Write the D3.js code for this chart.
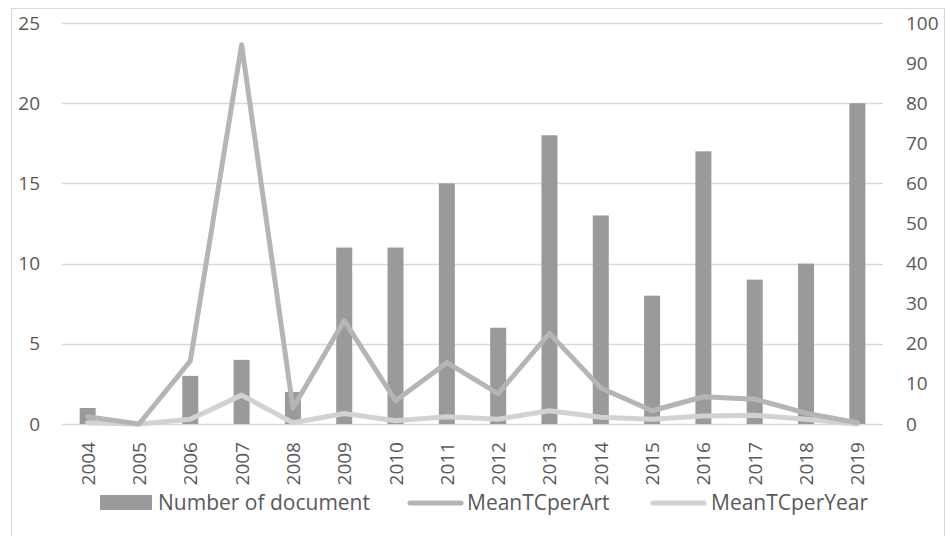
<!DOCTYPE html>
<html>
<head>
<meta charset="utf-8">
<script src="https://cdn.jsdelivr.net/npm/d3@7"></script>
<style>
  html, body { margin: 0; padding: 0; background: #fff; }
  svg { display: block; font-family: "Open Sans", "Noto Sans", sans-serif; }
</style>
</head>
<body>
<svg id="chart" width="946" height="536"></svg>
<script>
// Publication years
const years = ["2004","2005","2006","2007","2008","2009","2010","2011","2012","2013","2014","2015","2016","2017","2018","2019"];
// Number of documents per year (left axis)
const docCounts = [1, 0, 3, 4, 2, 11, 11, 15, 6, 18, 13, 8, 17, 9, 10, 20];
// Mean total citations per article (right axis)
const meanTCperArt = [1.8, 0, 15.7, 94.6, 4, 25.8, 5.8, 15.3, 7.6, 22.6, 9, 3.3, 6.8, 6.2, 2.7, 0.3];
// Mean total citations per year (right axis)
const meanTCperYear = [0.3, 0, 1.2, 7.2, 0.3, 2.6, 0.8, 1.8, 1.2, 3.3, 1.7, 1.2, 2.0, 2.2, 1.2, 0];
// Axis ticks
const leftTicks = [0, 5, 10, 15, 20, 25];
const rightTicks = [0, 10, 20, 30, 40, 50, 60, 70, 80, 90, 100];
// Legend entries
const legendLabels = ["Number of document", "MeanTCperArt", "MeanTCperYear"];

const svg = d3.select("#chart");
const plot = { left: 62, right: 883, top: 23, bottom: 424 };

const colors = { bar: "#9a9a9a", art: "#b5b5b5", year: "#d2d2d2", grid: "#d9d9d9", text: "#595959" };

// Chart frame
svg.append("rect")
  .attr("x", 11.5).attr("y", 8.5)
  .attr("width", 933).attr("height", 540)
  .attr("fill", "#fff").attr("stroke", colors.grid).attr("stroke-width", 1);

const x = d3.scaleBand().domain(years).range([plot.left, plot.right]).paddingInner(0).paddingOuter(0);
const yL = d3.scaleLinear().domain([0, 25]).range([plot.bottom, plot.top]);
const yR = d3.scaleLinear().domain([0, 100]).range([plot.bottom, plot.top]);

// Horizontal gridlines at the left-axis ticks
svg.append("g").selectAll("line").data(leftTicks).join("line")
  .attr("x1", plot.left).attr("x2", plot.right)
  .attr("y1", d => Math.round(yL(d)) + 0.5).attr("y2", d => Math.round(yL(d)) + 0.5)
  .attr("stroke", colors.grid).attr("stroke-width", 1.3);

// Left axis labels
const axL = d3.axisLeft(yL).tickValues(leftTicks).tickSize(0).tickPadding(0);
const gL = svg.append("g").attr("transform", `translate(40,0)`).call(axL);
gL.select(".domain").remove();
gL.selectAll("text").attr("fill", colors.text).attr("font-size", 19).attr("font-family", "Open Sans");

// Right axis labels
const axR = d3.axisRight(yR).tickValues(rightTicks).tickSize(0).tickPadding(0);
const gR = svg.append("g").attr("transform", `translate(906,0)`).call(axR);
gR.select(".domain").remove();
gR.selectAll("text").attr("fill", colors.text).attr("font-size", 19).attr("font-family", "Open Sans");

// Bars: number of documents
const barW = 16;
svg.append("g").selectAll("rect").data(docCounts).join("rect")
  .attr("x", (d, i) => x(years[i]) + x.bandwidth() / 2 - barW / 2)
  .attr("width", barW)
  .attr("y", d => yL(d))
  .attr("height", d => yL(0) - yL(d))
  .attr("fill", colors.bar);

// Lines on the secondary axis
const line = d3.line()
  .x((d, i) => x(years[i]) + x.bandwidth() / 2)
  .y(d => yR(d));

svg.append("path").datum(meanTCperYear)
  .attr("d", line).attr("fill", "none")
  .attr("stroke", colors.year).attr("stroke-width", 5)
  .attr("stroke-linejoin", "round").attr("stroke-linecap", "round");

svg.append("path").datum(meanTCperArt)
  .attr("d", line).attr("fill", "none")
  .attr("stroke", colors.art).attr("stroke-width", 5)
  .attr("stroke-linejoin", "round").attr("stroke-linecap", "round");

// Rotated year labels
svg.append("g").selectAll("text").data(years).join("text")
  .attr("transform", d => `translate(${x(d) + x.bandwidth() / 2 + 7},442) rotate(-90)`)
  .attr("text-anchor", "end")
  .attr("font-size", 19)
  .attr("fill", colors.text)
  .text(d => d);

// Legend
const legend = svg.append("g");
const legendY = 503;
const legendItems = [
  { label: legendLabels[0], kind: "bar", color: colors.bar, sx: 100, tx: 158 },
  { label: legendLabels[1], kind: "line", color: colors.art, sx: 408, tx: 467 },
  { label: legendLabels[2], kind: "line", color: colors.year, sx: 651, tx: 711 }
];
legendItems.forEach(it => {
  if (it.kind === "bar") {
    legend.append("rect").attr("x", it.sx).attr("y", legendY - 8).attr("width", 52).attr("height", 15).attr("fill", it.color);
  } else {
    legend.append("line").attr("x1", it.sx + 2).attr("x2", it.sx + 53)
      .attr("y1", legendY).attr("y2", legendY)
      .attr("stroke", it.color).attr("stroke-width", 5).attr("stroke-linecap", "round");
  }
  legend.append("text").attr("x", it.tx).attr("y", legendY + 7)
    .attr("font-size", 21).attr("fill", colors.text).text(it.label);
});
</script>
</body>
</html>
